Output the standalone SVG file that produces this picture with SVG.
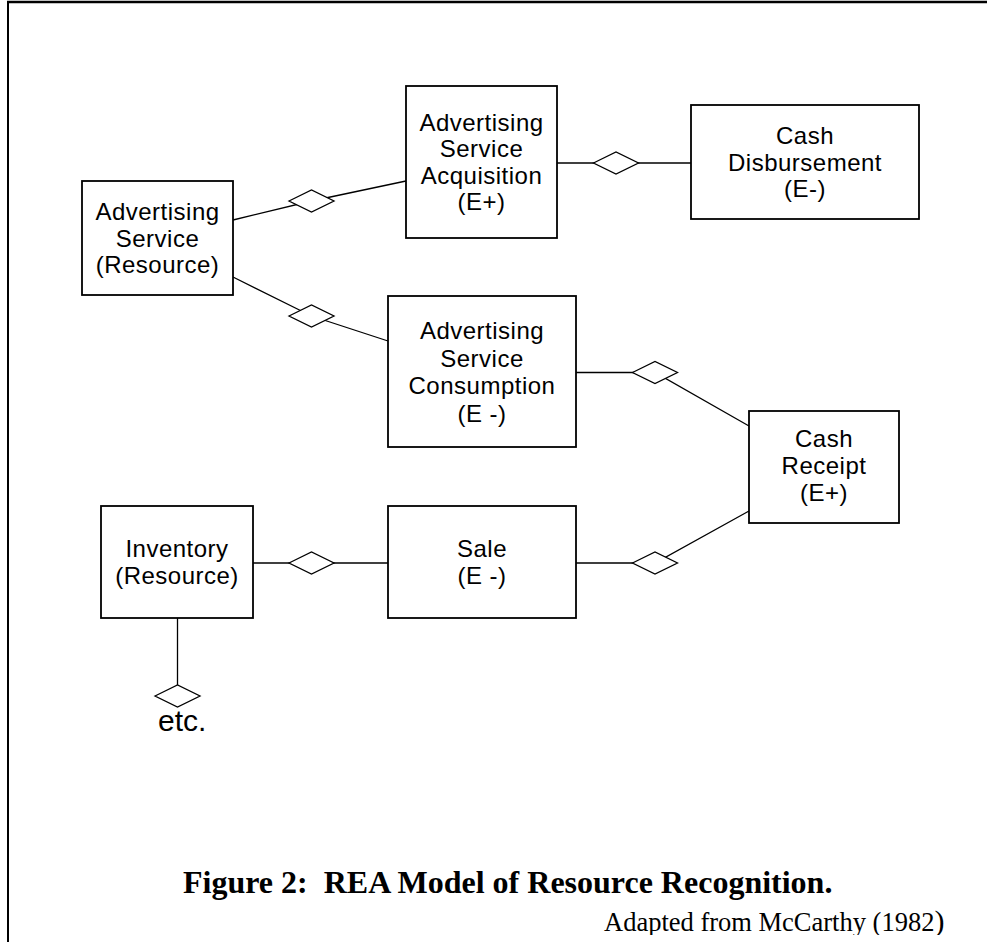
<svg xmlns="http://www.w3.org/2000/svg" xmlns:xlink="http://www.w3.org/1999/xlink" width="987" height="942" viewBox="0 0 987 942">
<style>
.box{fill:#fff;stroke:#000;stroke-width:1.8}
.lbl{font-family:"Liberation Sans",Arial,sans-serif;font-size:24px;letter-spacing:0.5px;text-anchor:middle;fill:#000}
.con{fill:none;stroke:#000;stroke-width:1.3}
.dia{fill:#fff;stroke:#000;stroke-width:1.3}
.frame{stroke:#000;fill:none}
.title{font-family:"Liberation Serif","Times New Roman",serif;font-size:32px;font-weight:bold;fill:#000;white-space:pre}
.cap{font-family:"Liberation Serif","Times New Roman",serif;font-size:26.5px;fill:#000}
</style>
<defs>
<polygon id="dm" points="-22.5,0 0,-11 22.5,0 0,11"/>
<clipPath id="clipb"><rect x="0" y="0" width="987" height="935"/></clipPath>
</defs>
<rect x="0" y="0" width="987" height="942" fill="#fff"/>
<g id="frame">
<line class="frame" x1="7" y1="2" x2="987" y2="2" stroke-width="2.5"/>
<line class="frame" x1="8" y1="1" x2="8" y2="942" stroke-width="2"/>
</g>
<g id="connectors">
<path class="con" d="M233,220 L311.5,201 L406,181"/>
<path class="con" d="M557,163 L691,163"/>
<path class="con" d="M233,277 L311.5,316 L388,341"/>
<path class="con" d="M576,372.5 L655,372.5 L749,426"/>
<path class="con" d="M576,563 L655,563 L749,511"/>
<path class="con" d="M253,563 L388,563"/>
<path class="con" d="M177.5,618 L177.5,696"/>
<use xlink:href="#dm" class="dia" x="311.5" y="201"/>
<use xlink:href="#dm" class="dia" x="616" y="163"/>
<use xlink:href="#dm" class="dia" x="311.5" y="316"/>
<use xlink:href="#dm" class="dia" x="655" y="372.5"/>
<use xlink:href="#dm" class="dia" x="655" y="563"/>
<use xlink:href="#dm" class="dia" x="311.5" y="563"/>
<use xlink:href="#dm" class="dia" x="177.5" y="696"/>
</g>
<g id="advertising-service">
<rect class="box" x="82" y="181" width="151" height="114"/>
<text class="lbl" x="157.5" y="220">Advertising</text>
<text class="lbl" x="157.5" y="246.7">Service</text>
<text class="lbl" x="157.5" y="273.4">(Resource)</text>
</g>
<g id="acquisition">
<rect class="box" x="406" y="86" width="151" height="152"/>
<text class="lbl" x="481.5" y="130.5">Advertising</text>
<text class="lbl" x="481.5" y="157">Service</text>
<text class="lbl" x="481.5" y="183.5">Acquisition</text>
<text class="lbl" x="481.5" y="209.5">(E+)</text>
</g>
<g id="cash-disbursement">
<rect class="box" x="691" y="105" width="228" height="114"/>
<text class="lbl" x="805" y="144">Cash</text>
<text class="lbl" x="805" y="170.7">Disbursement</text>
<text class="lbl" x="805" y="197.4">(E-)</text>
</g>
<g id="consumption">
<rect class="box" x="388" y="296" width="188" height="151"/>
<text class="lbl" x="482" y="339">Advertising</text>
<text class="lbl" x="482" y="366.5">Service</text>
<text class="lbl" x="482" y="394">Consumption</text>
<text class="lbl" x="482" y="421.5">(E -)</text>
</g>
<g id="cash-receipt">
<rect class="box" x="749" y="411" width="150" height="112"/>
<text class="lbl" x="824" y="447">Cash</text>
<text class="lbl" x="824" y="474">Receipt</text>
<text class="lbl" x="824" y="501">(E+)</text>
</g>
<g id="inventory">
<rect class="box" x="101" y="506" width="152" height="112"/>
<text class="lbl" x="177" y="557">Inventory</text>
<text class="lbl" x="177" y="584">(Resource)</text>
</g>
<g id="sale">
<rect class="box" x="388" y="506" width="188" height="112"/>
<text class="lbl" x="482" y="557">Sale</text>
<text class="lbl" x="482" y="584">(E -)</text>
</g>
<g id="etc">
<text x="158" y="731" font-family="Liberation Sans, Arial, sans-serif" font-size="30">etc.</text>
</g>
<g id="caption">
<text class="title" x="183" y="893" xml:space="preserve">Figure 2:  REA Model of Resource Recognition.</text>
<text class="cap" x="604" y="931" clip-path="url(#clipb)">Adapted from McCarthy (1982<tspan font-size="30">)</tspan></text>
</g>
</svg>
